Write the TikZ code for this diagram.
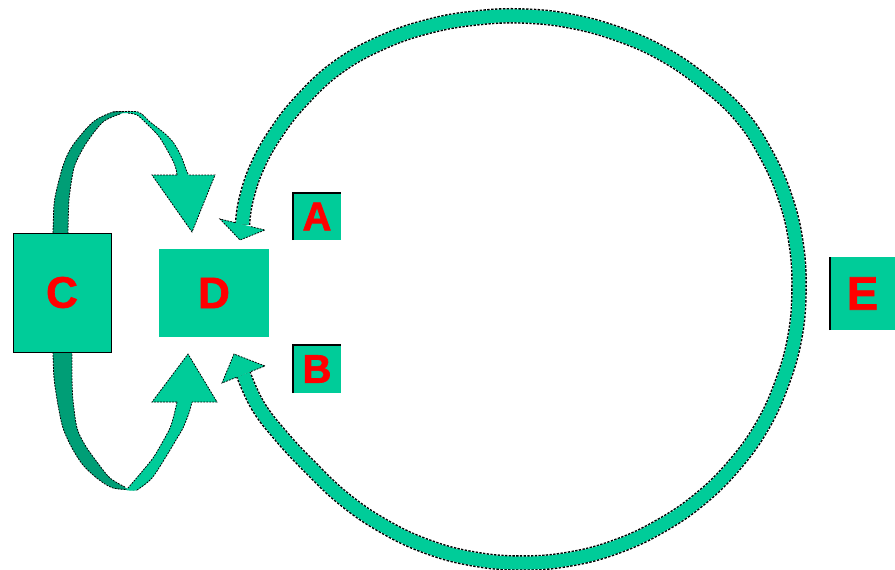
\documentclass[tikz,border=0pt]{standalone}
\usepackage{fontspec}
\setmainfont{Liberation Sans}
\newfontfamily\heavyfont{Liberation Sans Bold}[FakeBold=1.6]
\definecolor{tealm}{RGB}{0,204,153}
\definecolor{tealdk}{RGB}{0,158,118}
\definecolor{redm}{RGB}{255,0,0}
\tikzset{
  box/.style={fill=tealm, inner sep=0pt, text=redm, font=\heavyfont\fontsize{44}{44}\selectfont},
  outl/.style={draw=black, line width=0.8pt, dash pattern=on 1.8pt off 1.2pt},
  bandout/.style={draw=black, line width=15.6pt, dash pattern=on 2.4pt off 1.4pt},
  bandin/.style={draw=tealm, line width=12.8pt},
}
\begin{document}
\begin{tikzpicture}[x=1pt,y=-1pt]
\useasboundingbox (0,0) rectangle (895,570);

% ---------- big circular arrow from E side back to D ----------
\def\bigpath{plot[smooth,tension=0.7] coordinates {(242.5,224.5) (246,200) (257,167) (276,133) (302,100) (338,67) (383,42) (430,26) (476,18) (522,16) (570,21) (618,34) (663,54) (704,82) (740,115) (766,154) (785,197) (796,242.6) (799,290) (794.8,337.4) (782,383) (762,426.5) (734,465.5) (700,499) (660.5,526) (616.7,546.5) (570,559) (522,563) (474,559) (427,546.5) (383.5,526) (344,499) (310,467) (281,436) (258,406) (243.5,374.5)}}
\draw[bandout] \bigpath;
\draw[bandin] \bigpath;
% upper arrowhead of big arrow
\coordinate (ua1) at (220,219);
\coordinate (ua2) at (265,230);
\coordinate (uat) at (240,240);
\fill[tealm] (ua1) -- (uat) -- (ua2) -- cycle;
\draw[outl] (235,222.6) -- (ua1) -- (uat) -- (ua2) -- (250,226.4);
% lower arrowhead of big arrow
\coordinate (la1) at (222,383);
\coordinate (la2) at (265,366);
\coordinate (lat) at (234,354);
\fill[tealm] (la1) -- (lat) -- (la2) -- cycle;
\draw[outl] (236.2,377.4) -- (la1) -- (lat) -- (la2) -- (250.8,371.6);

% ---------- upper small loop C -> D ----------
\fill[tealdk] plot[smooth] coordinates {(53,233) (54,205) (57,188) (64,163) (73,145) (93,122) (113,112) (125,112)}
  -- plot[smooth] coordinates {(125,113) (120,114) (103,122) (87,142) (77,160) (73,172) (69,200) (68,233)} -- cycle;
\draw[outl] plot[smooth] coordinates {(53,233) (54,205) (57,188) (64,163) (73,145) (93,122) (113,112) (125,112)};
\draw[outl] plot[smooth] coordinates {(120,114) (103,122) (87,142) (77,160) (73,172) (69,200) (68,233)};
\fill[tealm] plot[smooth] coordinates {(123,112) (138,112) (150,122) (163,132) (173,142) (181,156) (187,172) (189,176)}
  -- plot[smooth] coordinates {(177,176) (174,163) (160,138) (148,125) (137,115) (125,113)} -- cycle;
\draw[outl] plot[smooth] coordinates {(113,112) (138,112) (150,122) (163,132) (173,142) (181,156) (187,172) (189,175)};
\draw[outl] plot[smooth] coordinates {(177,175) (174,163) (160,138) (148,125) (137,115) (127,113)};
\fill[tealm] (152,175) -- (192,232) -- (215,175) -- cycle;
\draw[outl] (177,175) -- (152,175) -- (192,232) -- (215,175) -- (189,175);

% ---------- lower small loop C -> D ----------
\fill[tealdk] plot[smooth] coordinates {(53,352) (54,378) (58,405) (63,428) (72,448) (83,465) (98,479) (113,488) (128,490)}
  -- plot[smooth] coordinates {(128,489) (110,478) (97,462) (85,445) (77,428) (73,400) (72,378) (72,352)} -- cycle;
\draw[outl] plot[smooth] coordinates {(53,352) (54,378) (58,405) (63,428) (72,448) (83,465) (98,479) (113,488) (137,490)};
\draw[outl] plot[smooth] coordinates {(125,487) (110,478) (97,462) (85,445) (77,428) (73,400) (72,378) (72,352)};
\fill[tealm] plot[smooth] coordinates {(126,490) (137,490) (152,478) (167,455) (176,440) (183,428) (189,413) (192,402)}
  -- plot[smooth] coordinates {(177,402) (174,415) (170,428) (162,443) (153,458) (140,474) (128,488)} -- cycle;
\draw[outl] plot[smooth] coordinates {(137,490) (152,478) (167,455) (176,440) (183,428) (189,413) (192,402)};
\draw[outl] plot[smooth] coordinates {(177,402) (174,415) (170,428) (162,443) (153,458) (140,474) (128,488)};
\fill[tealm] (152,402) -- (188,354) -- (217,402) -- cycle;
\draw[outl] (177,402) -- (152,402) -- (188,354) -- (217,402) -- (192,402);

% ---------- boxes ----------
\node[box, draw=black, line width=1pt, minimum width=98, minimum height=119] (C) at (62,292.5) {C};
\node[box, minimum width=110, minimum height=88] (D) at (214,293) {D};
\node[box, minimum width=48, minimum height=47, font=\heavyfont\fontsize{40}{40}\selectfont] (A) at (317,216.5) {A};
\node[box, minimum width=48, minimum height=48, font=\heavyfont\fontsize{40}{40}\selectfont] (B) at (317,369) {B};
\node[box, minimum width=65, minimum height=73, font=\heavyfont\fontsize{47}{47}\selectfont] (E) at (862.5,293.5) {E};
\draw[line width=1.6pt] (A.south west) -- (A.north west) -- (A.north east);
\draw[line width=1.6pt] (B.south west) -- (B.north west) -- (B.north east);
\draw[line width=2pt] (E.south west) -- (E.north west);
\end{tikzpicture}
\end{document}
